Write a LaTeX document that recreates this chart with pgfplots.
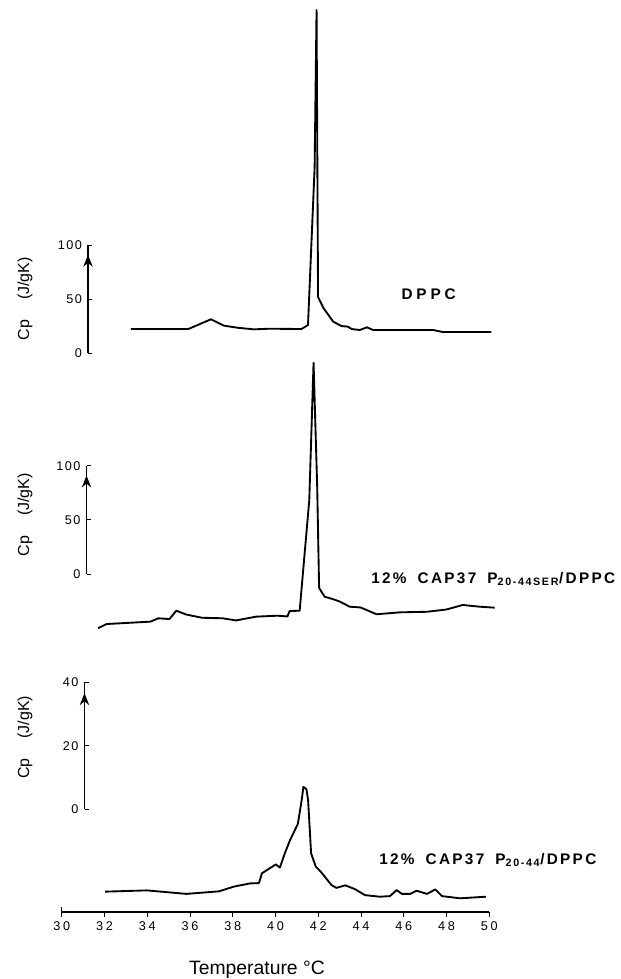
\documentclass[border=0pt]{standalone}
\usepackage{fontspec}
\setmainfont{Liberation Sans}
\newfontfamily\spaced[LetterSpace=15]{Liberation Sans}
\newfontfamily\wide[LetterSpace=25]{Liberation Sans}
\newfontfamily\tickfont[LetterSpace=12]{Liberation Sans}
\newfontfamily\xtickfont[LetterSpace=22]{Liberation Sans}
\usepackage{pgfplots}
\pgfplotsset{compat=1.18}
\usetikzlibrary{arrows.meta}

\pgfplotsset{
  panel/.style={
    scale only axis, clip=false,
    xmax=50, ymin=0, anchor=south west,
    axis x line=none, axis y line=left,
    y axis line style={-, line width=0.8pt},
    tick align=inside, major tick length=3pt,
    tick style={line width=0.6pt, black},
    yticklabel style={font=\tickfont\fontsize{9.5}{11}\selectfont, xshift=-1pt},
    /pgf/number format/assume math mode=true,
  },
  curve/.style={black, line width=1.4pt, line join=round, no markers},
}

\begin{document}
\begin{tikzpicture}
\path[use as bounding box] (0,0) rectangle (465.75pt,-734.25pt);

% DPPC
\begin{axis}[panel, at={(66pt,-264.75pt)}, width=300.98pt, height=81pt,
    xmin=31.23, ymax=100, ytick={0,50,100}]
\addplot[curve] coordinates {
  (33.23,22.2)(35.92,22.2)(36.98,31.2)(37.59,25.3)(38.23,23.4)(38.98,21.9)
  (39.73,22.5)(41.21,22.2)(41.52,25.9)(41.83,172.2)(41.92,317.6)(41.99,51.9)
  (42.24,41.7)(42.70,29.0)(43.08,25.0)(43.39,24.4)(43.56,22.2)(43.94,21.3)
  (44.28,23.8)(44.56,21.3)(47.37,21.3)(47.84,19.4)(50.10,19.4)
};
\draw[line width=0.8pt, -{Stealth[length=9pt,width=7pt]}] (rel axis cs:0,0.6) -- (rel axis cs:0,0.91);
\end{axis}

% 12% CAP37 P20-44SER/DPPC
\begin{axis}[panel, at={(64.875pt,-430.5pt)}, width=302.1pt, height=81.2pt,
    xmin=31.16, ymax=100, ytick={0,50,100}]
\addplot[curve] coordinates {
  (31.70,-50.1)(32.10,-46.2)(34.15,-44.0)(34.52,-40.9)(35.04,-41.6)(35.36,-33.9)
  (35.82,-37.4)(36.56,-40.4)(37.54,-40.9)(38.15,-42.9)(39.09,-39.4)(40.09,-38.5)
  (40.56,-39.2)(40.66,-34.2)(41.13,-33.9)(41.58,68.3)(41.78,195.1)(41.95,80.6)
  (42.04,-12.9)(42.30,-21.0)(42.67,-23.1)(43.00,-25.4)(43.47,-30.2)(43.98,-30.9)
  (44.73,-37.2)(45.81,-35.4)(47.07,-34.9)(47.99,-32.8)(48.76,-28.6)(49.55,-30.2)
  (50.25,-31.1)
};
\draw[line width=0.8pt, -{Stealth[length=9pt,width=7pt]}] (rel axis cs:0,0.6) -- (rel axis cs:0,0.91);
\end{axis}

% 12% CAP37 P20-44/DPPC
\begin{axis}[panel, at={(63.375pt,-606.75pt)}, width=303.5pt, height=95pt,
    xmin=31.07, ymax=40, ytick={0,20,40}]
\addplot[curve] coordinates {
  (32.03,-26.1)(33.98,-25.7)(35.84,-26.8)(37.36,-26.0)(38.06,-24.5)(38.81,-23.5)
  (39.23,-23.4)(39.37,-20.3)(39.74,-18.7)(40.02,-17.5)(40.21,-18.5)(40.44,-14.0)
  (40.68,-9.9)(41.05,-4.7)(41.23,2.8)(41.31,7.0)(41.45,6.3)(41.53,2.8)
  (41.67,-14.0)(41.89,-18.2)(42.15,-20.0)(42.62,-24.0)(42.85,-24.9)(43.27,-24.1)
  (43.72,-25.3)(44.19,-27.2)(44.89,-27.7)(45.36,-27.5)(45.67,-25.6)(45.92,-26.8)
  (46.31,-26.8)(46.60,-25.8)(47.09,-26.8)(47.48,-25.4)(47.79,-27.5)(48.63,-28.2)
  (49.85,-27.7)
};
\draw[line width=0.8pt, -{Stealth[length=9pt,width=7pt]}] (rel axis cs:0,0.6) -- (rel axis cs:0,0.915);
\end{axis}

% temperature axis
\begin{axis}[scale only axis, at={(46.28pt,-684pt)}, anchor=south west,
    width=320.7pt, height=10pt, xmin=30, xmax=50, ymin=0, ymax=1,
    axis x line=bottom, axis y line=none,
    x axis line style={-, line width=0.8pt},
    xtick={30,32,...,50}, tick align=outside, major tick length=3.5pt,
    tick style={line width=0.6pt, black},
    xticklabel style={font=\xtickfont\fontsize{9.5}{11}\selectfont},
    /pgf/number format/assume math mode=true,
    extra x ticks={30}, extra x tick labels={},
    extra x tick style={tick align=center, major tick length=8pt}]
\end{axis}

\node[rotate=90, font=\fontsize{12}{14}\selectfont] at (18.75pt,-224pt) {Cp\hspace{15pt}(J/gK)};
\node[rotate=90, font=\fontsize{12}{14}\selectfont] at (18.75pt,-386pt) {Cp\hspace{15pt}(J/gK)};
\node[rotate=90, font=\fontsize{12}{14}\selectfont] at (18.75pt,-553pt) {Cp\hspace{15pt}(J/gK)};

\node[font=\wide\bfseries\fontsize{11.5}{13}\selectfont] at (321.45pt,-220.5pt) {DPPC};
\node[anchor=base west, inner sep=0pt, font=\spaced\bfseries\fontsize{11.5}{13}\selectfont] at (278.25pt,-437.6pt)
  {12\%\hspace{0.3em} CAP37\hspace{0.3em} P\textsubscript{20-44SER}/DPPC};
\node[anchor=base west, inner sep=0pt, font=\spaced\bfseries\fontsize{11.5}{13}\selectfont] at (284.25pt,-648.4pt)
  {12\%\hspace{0.3em} CAP37\hspace{0.3em} P\textsubscript{20-44}/DPPC};
\node[anchor=base, inner sep=0pt, font=\fontsize{14.5}{16}\selectfont] at (192.75pt,-730.5pt) {Temperature °C};
\end{tikzpicture}
\end{document}
